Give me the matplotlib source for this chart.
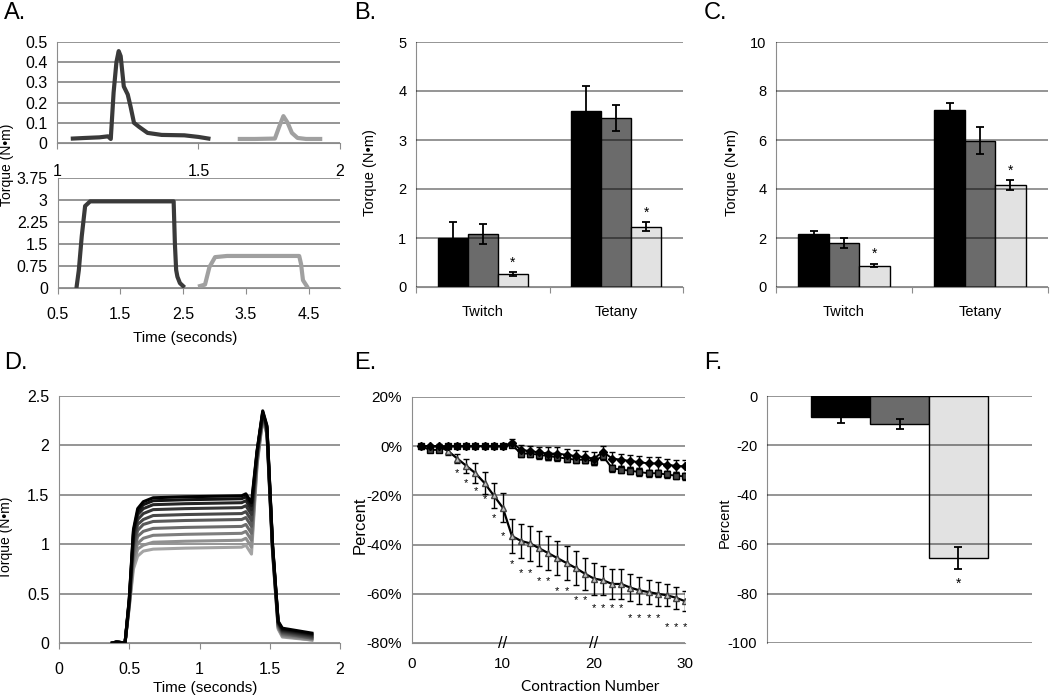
import matplotlib
matplotlib.use("Agg")
import matplotlib.pyplot as plt
from matplotlib.ticker import FuncFormatter

plt.rcParams['font.family'] = ['Liberation Sans', 'DejaVu Sans']

W, H = 1050, 696
GRID = '#8c8c8c'
BAR_COLORS = ['#000000', '#6b6b6b', '#e2e2e2']

# A. single twitch (top) and tetanus (bottom) traces
a_tw_dark_t = [1.056, 1.10, 1.15, 1.18, 1.19, 1.20, 1.21, 1.218, 1.225, 1.236, 1.25, 1.26, 1.272,
               1.29, 1.32, 1.37, 1.45, 1.50, 1.535]
a_tw_dark_y = [0.022, 0.025, 0.028, 0.033, 0.02, 0.25, 0.40, 0.455, 0.43, 0.28, 0.24, 0.18, 0.10,
               0.08, 0.05, 0.04, 0.038, 0.03, 0.022]
a_tw_light_t = [1.646, 1.70, 1.77, 1.785, 1.80, 1.815, 1.83, 1.85, 1.88, 1.93]
a_tw_light_y = [0.02, 0.02, 0.022, 0.08, 0.133, 0.10, 0.05, 0.025, 0.02, 0.02]
a_tet_dark_t = [0.806, 0.84, 0.886, 0.94, 1.02, 1.2, 2.0, 2.35, 2.37, 2.39, 2.41, 2.45, 2.50]
a_tet_dark_y = [0.05, 0.6, 1.75, 2.79, 2.95, 2.95, 2.95, 2.95, 1.5, 0.6, 0.37, 0.15, 0.05]
a_tet_light_t = [2.77, 2.85, 2.92, 3.01, 3.2, 4.0, 4.35, 4.38, 4.41, 4.47]
a_tet_light_y = [0.05, 0.1, 0.7, 1.04, 1.08, 1.08, 1.08, 0.8, 0.25, 0.05]

# B. / C. bar data (3 groups per stimulus)
categories = ['Twitch', 'Tetany']
b_vals = [[1.00, 1.08, 0.26], [3.60, 3.45, 1.23]]
b_errs = [[0.33, 0.20, 0.04], [0.51, 0.26, 0.09]]
c_vals = [[2.15, 1.80, 0.87], [7.22, 5.97, 4.15]]
c_errs = [[0.12, 0.20, 0.07], [0.27, 0.55, 0.20]]

# D. overlaid fatigue traces, first (black) to last (light gray)
d_time = [0.38, 0.41, 0.47, 0.50, 0.53, 0.56, 0.60, 0.67, 0.90, 1.30, 1.33, 1.37, 1.41, 1.45,
          1.48, 1.52, 1.56, 1.59, 1.80]
d_traces = [
    [0, 0.01, 0, 0.45, 1.15, 1.36, 1.43, 1.47, 1.48, 1.49, 1.51, 1.42, 1.95, 2.35, 2.20, 1.00, 0.22, 0.15, 0.10],
    [0, 0.01, 0, 0.44, 1.13, 1.33, 1.40, 1.44, 1.45, 1.46, 1.48, 1.39, 1.94, 2.34, 2.19, 0.99, 0.21, 0.14, 0.09],
    [0, 0.01, 0, 0.43, 1.10, 1.30, 1.36, 1.40, 1.41, 1.42, 1.44, 1.35, 1.93, 2.33, 2.18, 0.98, 0.21, 0.13, 0.08],
    [0, 0.01, 0, 0.42, 1.06, 1.25, 1.31, 1.35, 1.36, 1.37, 1.39, 1.30, 1.92, 2.32, 2.17, 0.97, 0.20, 0.12, 0.07],
    [0, 0.01, 0, 0.41, 1.01, 1.20, 1.25, 1.29, 1.30, 1.31, 1.33, 1.24, 1.90, 2.31, 2.16, 0.96, 0.19, 0.11, 0.06],
    [0, 0.01, 0, 0.40, 0.97, 1.14, 1.20, 1.23, 1.24, 1.25, 1.27, 1.18, 1.88, 2.30, 2.15, 0.95, 0.18, 0.10, 0.05],
    [0, 0.01, 0, 0.39, 0.91, 1.08, 1.13, 1.16, 1.17, 1.18, 1.20, 1.11, 1.86, 2.29, 2.14, 0.94, 0.17, 0.09, 0.05],
    [0, 0.01, 0, 0.38, 0.86, 1.01, 1.06, 1.09, 1.10, 1.11, 1.13, 1.04, 1.84, 2.28, 2.13, 0.93, 0.16, 0.08, 0.04],
    [0, 0.01, 0, 0.37, 0.80, 0.95, 0.99, 1.02, 1.03, 1.04, 1.06, 0.97, 1.82, 2.27, 2.12, 0.92, 0.15, 0.07, 0.03],
    [0, 0.01, 0, 0.36, 0.75, 0.88, 0.93, 0.95, 0.96, 0.97, 0.99, 0.90, 1.80, 2.26, 2.11, 0.91, 0.14, 0.06, 0.03],
]
d_colors = ['#000000', '#121212', '#242424', '#363636', '#484848',
            '#5a5a5a', '#6c6c6c', '#7e7e7e', '#909090', '#a4a4a4']

# E. percent change over 30 contractions
contraction = list(range(1, 31))
e_diamond = [0, 0, 0, 0, 0, 0, 0, 0, 0, 0, 1.5, -1.5, -2, -2.5, -3, -3, -3.5, -4, -4.5, -5,
             -2.3, -5, -5.5, -6, -6.5, -7, -7, -7.5, -8, -8.2]
e_diamond_err = [0.5, 0.5, 0.5, 0.5, 0.5, 0.5, 0.5, 0.5, 0.5, 0.5, 1.5, 2, 2, 2, 2.5, 2.5, 2.5, 2.5, 2.5, 2.5,
                 2.5, 2.5, 2.5, 2.5, 2.5, 2.5, 2.5, 2.5, 2.5, 2.5]
e_square = [0, -1.5, -1.5, 0, 0, 0, 0, 0, 0, 0, 0.5, -3, -3, -3.5, -4, -4.5, -5, -5.5, -5.5, -6,
            -4, -9, -9.5, -10, -10.5, -11, -11, -11.5, -12, -12.3]
e_square_err = [0.5, 1, 1, 0.5, 0.5, 0.5, 0.5, 0.5, 0.5, 0.5, 1, 1.5, 1.5, 1.5, 1.5, 1.5, 1.5, 1.5, 1.5, 1.5,
                1.5, 1.5, 1.5, 1.5, 1.5, 1.5, 1.5, 1.5, 1.5, 1.5]
e_triangle = [0, 0, 0, -2, -5, -8, -11, -15, -20, -25, -36.5, -38.5, -39.5, -41.5, -43.5, -45.5, -47.5,
              -49.5, -51.8, -53.8, -54.5, -56, -56, -57.5, -58.6, -59.3, -60, -60.6, -61.6, -63]
e_triangle_err = [0.5, 0.5, 0.8, 1.5, 2, 3, 4, 4.5, 5, 6, 7, 7, 7, 7, 7, 7, 7, 7, 6.5, 6.5,
                  6, 6, 6, 5.5, 5.5, 5, 5, 4.5, 4.5, 4]
e_star_x = [5, 6, 7, 8, 9, 10, 11, 12, 13, 14, 15, 16, 17, 18, 19,
            20, 21, 22, 23, 24, 25, 26, 27, 28, 29, 30]
e_star_y = [-10.8, -14.8, -18.4, -21.6, -29.2, -36.5, -47.9, -51.4, -51.4, -55, -55, -58.8, -58.8,
            -62.4, -62.4, -66, -66, -66, -66, -69.8, -69.8, -69.8, -69.8, -73.5, -73.5, -73.5]
e_breaks = [10, 20]

# F. percent change after fatigue
f_vals = [-8.5, -11.5, -65.5]
f_errs = [2.5, 2.0, 4.5]

fig = plt.figure(figsize=(W / 100, H / 100), dpi=100)


def px_axes(x0, y0, x1, y1):
    return fig.add_axes([x0 / W, 1 - y1 / H, (x1 - x0) / W, (y1 - y0) / H])


def style(ax, fs=10, below=True):
    for s in ['top', 'right']:
        ax.spines[s].set_visible(False)
    ax.spines['left'].set_color(GRID)
    ax.spines['bottom'].set_color(GRID)
    if below:
        ax.yaxis.grid(True, color=GRID, lw=1.3)
        ax.set_axisbelow(True)
    else:
        ax.yaxis.grid(True, color='black', alpha=0.45, lw=1.3)
        ax.set_axisbelow(False)
    ax.tick_params(axis='y', length=0, pad=7, labelsize=fs)
    ax.tick_params(axis='x', length=4, color=GRID, pad=10, labelsize=fs)
    ax.yaxis.set_major_formatter(FuncFormatter(lambda v, p: '%g' % v))
    ax.xaxis.set_major_formatter(FuncFormatter(lambda v, p: '%g' % v))


# ---- A top
ax = px_axes(57, 42, 340, 143)
style(ax, fs=11.5)
ax.plot(a_tw_dark_t, a_tw_dark_y, color='#3a3a3a', lw=3)
ax.plot(a_tw_light_t, a_tw_light_y, color='#a0a0a0', lw=3)
ax.set_xlim(1, 2)
ax.set_ylim(0, 0.5)
ax.set_xticks([1, 1.5, 2])
ax.set_yticks([0, 0.1, 0.2, 0.3, 0.4, 0.5])
ax.tick_params(axis='x', pad=11)

# ---- A bottom
ax = px_axes(57.5, 178, 340, 287.5)
style(ax, fs=11.5)
ax.plot(a_tet_dark_t, a_tet_dark_y, color='#3a3a3a', lw=3)
ax.plot(a_tet_light_t, a_tet_light_y, color='#a0a0a0', lw=3)
ax.set_xlim(0.5, 5)
ax.set_ylim(0, 3.75)
ax.set_xticks([0.5, 1.5, 2.5, 3.5, 4.5])
ax.set_yticks([0, 0.75, 1.5, 2.25, 3, 3.75])
fig.text(7 / W, 1 - 165 / H, 'Torque (N•m)', rotation=90, ha='center', va='center', fontsize=10)
fig.text(185 / W, 1 - 338 / H, 'Time (seconds)', ha='center', va='center', fontsize=11)


# ---- B and C bars
def bar_panel(box, vals, errs, ymax, step, label_x):
    ax = px_axes(*box)
    style(ax, fs=10.5, below=False)
    width = 0.224
    for g, (vs, es) in enumerate(zip(vals, errs)):
        for i in range(3):
            x = g + 0.5 + (i - 1) * width
            ax.bar(x, vs[i], width, color=BAR_COLORS[i], edgecolor='black', lw=1, zorder=1)
            ax.errorbar(x, vs[i], yerr=es[i], color='black', capsize=3, lw=1.3, capthick=1.3, zorder=3)
        xs = g + 0.5 + width
        ax.annotate('*', (xs, vs[2] + es[2]), xytext=(0, 2), textcoords='offset points',
                    ha='center', va='bottom', fontsize=10)
    ax.set_xlim(0, 2)
    ax.set_ylim(0, ymax)
    ax.set_yticks([step * k for k in range(int(round(ymax / step)) + 1)])
    ax.set_xticks([0, 1, 2])
    ax.set_xticklabels([])
    ax.set_xticks([0.5, 1.5], minor=True)
    ax.set_xticklabels(categories, minor=True)
    ax.tick_params(axis='x', which='minor', length=0, pad=13, labelsize=10.5)
    fig.text(label_x / W, 1 - 173 / H, 'Torque (N•m)', rotation=90, ha='center', va='center',
             fontsize=10.5)
    return ax


bar_panel((416, 42, 683, 287), b_vals, b_errs, 5, 1, 370)
bar_panel((776, 42, 1048, 287), c_vals, c_errs, 10, 2, 732)

# ---- D
ax = px_axes(59, 396, 340, 643)
style(ax, fs=11.5)
for trace, col in reversed(list(zip(d_traces, d_colors))):
    ax.plot(d_time, trace, color=col, lw=2.2, solid_joinstyle='round')
ax.set_xlim(0, 2)
ax.set_ylim(0, 2.5)
ax.set_xticks([0, 0.5, 1, 1.5, 2])
ax.set_yticks([0, 0.5, 1, 1.5, 2, 2.5])
fig.text(6 / W, 1 - 538 / H, 'Torque (N•m)', rotation=90, ha='center', va='center', fontsize=10)
fig.text(205 / W, 1 - 688 / H, 'Time (seconds)', ha='center', va='center', fontsize=11)

# ---- E
ax = px_axes(411.7, 397, 685, 643)
style(ax, fs=11)
ebar = dict(capsize=2.5, ecolor='black', elinewidth=1, capthick=1)
ax.errorbar(contraction, e_triangle, yerr=e_triangle_err, color='black', lw=1.6, marker='^', ms=4.5,
            mfc='#c4c4c4', mec='#444444', **ebar)
ax.errorbar(contraction, e_square, yerr=e_square_err, color='black', lw=1.4, marker='s', ms=5,
            mfc='#444444', mec='black', **ebar)
ax.errorbar(contraction, e_diamond, yerr=e_diamond_err, color='black', lw=1.4, marker='D', ms=4,
            mfc='black', mec='black', **ebar)
for sx, sy in zip(e_star_x, e_star_y):
    ax.text(sx, sy, '*', ha='center', va='center', fontsize=8)
for bx in e_breaks:
    ax.text(bx, -80, '//', ha='center', va='center', fontsize=12, clip_on=False)
ax.set_xlim(0, 30)
ax.set_ylim(-80, 20)
ax.set_xticks([0, 10, 20, 30])
ax.set_yticks([-80, -60, -40, -20, 0, 20])
ax.yaxis.set_major_formatter(FuncFormatter(lambda v, p: '%d%%' % v))
ax.tick_params(axis='x', length=0)
fig.text(360 / W, 1 - 525 / H, 'Percent', rotation=90, ha='center', va='center', fontsize=12)
fig.text(590 / W, 1 - 687 / H, 'Contraction Number', ha='center', va='center', fontsize=11,
         family=['Lato', 'DejaVu Sans'])

# ---- F
ax = px_axes(767, 396, 1032, 643)
style(ax, fs=10.5, below=False)
fw = 0.222
for i in range(3):
    x = 0.5 + (i - 1) * fw
    ax.bar(x, f_vals[i], fw, color=BAR_COLORS[i], edgecolor='black', lw=1, zorder=1)
    ax.errorbar(x, f_vals[i], yerr=f_errs[i], color='black', capsize=3, lw=1.3, capthick=1.3, zorder=3)
ax.annotate('*', (0.5 + fw, f_vals[2] - f_errs[2]), xytext=(0, -6), textcoords='offset points',
            ha='center', va='top', fontsize=10)
ax.set_xlim(0, 1)
ax.set_ylim(-100, 0)
ax.set_xticks([])
ax.set_yticks([-100, -80, -60, -40, -20, 0])
ax.spines['bottom'].set_visible(False)
fig.text(725 / W, 1 - 523 / H, 'Percent', rotation=90, ha='center', va='center', fontsize=10.5)

# panel letters
for lx, ly, s in [(4, 2, 'A.'), (354, 2, 'B.'), (704, 2, 'C.'),
                  (4, 352, 'D.'), (354, 352, 'E.'), (704, 352, 'F.')]:
    fig.text(lx / W, 1 - ly / H, s, ha='left', va='top', fontsize=17)

fig.savefig('out.png', dpi=100)
